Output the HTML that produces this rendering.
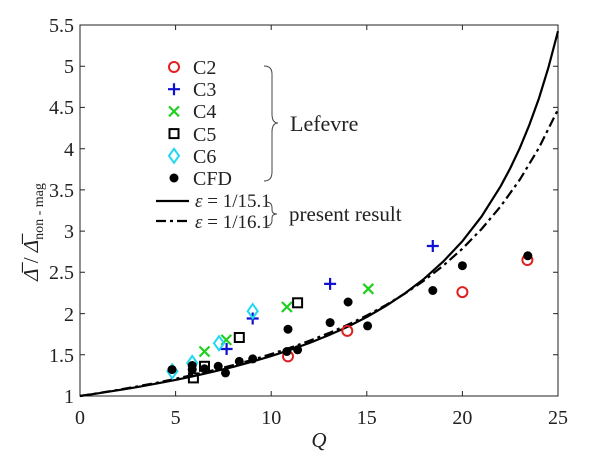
<!DOCTYPE html><html><head><style>body{margin:0;background:#fff}svg{display:block}text{font-family:"Liberation Serif","Times New Roman",serif}</style></head><body>
<svg width="600" height="455" viewBox="0 0 600 455" xmlns="http://www.w3.org/2000/svg" font-family="Liberation Serif, serif">
<rect x="80" y="25" width="478" height="371" fill="none" stroke="#222" stroke-width="1"/>
<g stroke="#222">
<path d="M175.6,396V391M271.2,396V391M366.8,396V391M462.4,396V391M175.6,25V30M271.2,25V30M366.8,25V30M462.4,25V30"/>
<path d="M80,354.8H85M80,313.6H85M80,272.3H85M80,231.1H85M80,189.9H85M80,148.7H85M80,107.4H85M80,66.2H85M558,354.8H553M558,313.6H553M558,272.3H553M558,231.1H553M558,189.9H553M558,148.7H553M558,107.4H553M558,66.2H553"/>
</g>
<g font-size="20" fill="#222" text-anchor="middle">
<text x="80" y="424">0</text><text x="175.6" y="424">5</text><text x="271.2" y="424">10</text><text x="366.8" y="424">15</text><text x="462.4" y="424">20</text><text x="558" y="424">25</text>
</g>
<g font-size="20" fill="#222" text-anchor="end">
<text x="74" y="403">1</text><text x="74" y="362">1.5</text><text x="74" y="321">2</text><text x="74" y="279">2.5</text><text x="74" y="238">3</text><text x="74" y="197">3.5</text><text x="74" y="156">4</text><text x="74" y="114">4.5</text><text x="74" y="73">5</text><text x="74" y="32">5.5</text>
</g>
<text x="319" y="447" font-size="21" font-style="italic" text-anchor="middle" fill="#222">Q</text>
<g transform="translate(38,232) rotate(-90)"><text x="0" y="0" font-size="21" text-anchor="middle" fill="#222"><tspan font-style="italic">Δ̅</tspan> / <tspan font-style="italic">Δ̅</tspan><tspan font-size="14" dy="5">non - mag</tspan></text></g>
<path d="M80,396L99.1,393.2L118.2,390.2L137.4,387.1L156.5,383.6L175.6,379.9L194.7,375.9L213.8,371.6L233,366.9L252.1,361.7L271.2,356.1L290.3,349.8L309.4,343L328.6,335.3L347.7,326.7L366.8,317L385.9,305.9L405,293.3L424.2,278.7L443.3,261.5L462.4,241.2L481.5,216.6L500.6,186.3L510.2,168.4L519.8,148.1L529.3,125L538.9,98.5L548.4,67.6L558,31.2" fill="none" stroke="#000" stroke-width="2.2"/>
<path d="M80,396L99.1,393L118.2,389.8L137.4,386.4L156.5,382.8L175.6,378.8L194.7,374.6L213.8,370.1L233,365.2L252.1,359.9L271.2,354.1L290.3,347.7L309.4,340.8L328.6,333.2L347.7,324.8L366.8,315.5L385.9,305.1L405,293.5L424.2,280.5L443.3,265.6L462.4,248.7L481.5,229.1L500.6,206.4L519.8,179.7L538.9,147.9L558,109.5" fill="none" stroke="#000" stroke-width="2.2" stroke-dasharray="10,4,3,4"/>
<g fill="none" stroke="#e02020" stroke-width="2">
<circle cx="288" cy="356.4" r="5"/><circle cx="347.3" cy="330.9" r="5"/><circle cx="462.4" cy="292.1" r="5"/><circle cx="527.4" cy="260" r="5"/><circle cx="174" cy="67" r="5"/>
</g>
<path stroke="#1010d0" stroke-width="2.2" d="M220.6,349H232.6M226.6,343V355M246.7,318.5H258.7M252.7,312.5V324.5M324.1,283.9H336.1M330.1,277.9V289.9M426.8,246H438.8M432.8,240V252M168,89.2H180M174,83.2V95.2"/>
<path stroke="#20d020" stroke-width="2.2" d="M199.5,346.5L209.5,356.5M199.5,356.5L209.5,346.5M221.3,334.9L231.3,344.9M221.3,344.9L231.3,334.9M281.9,302L291.9,312M281.9,312L291.9,302M363.3,283.8L373.3,293.8M363.3,293.8L373.3,283.8M169,106.4L179,116.4M169,116.4L179,106.4"/>
<g fill="none" stroke="#000" stroke-width="2">
<rect x="188.9" y="373.4" width="9" height="9"/><rect x="200" y="361.8" width="9" height="9"/><rect x="234.8" y="333" width="9" height="9"/><rect x="293.1" y="298.3" width="9" height="9"/><rect x="169.5" y="129.1" width="9" height="9"/>
</g>
<path fill="none" stroke="#20d8f0" stroke-width="2" d="M172.3,364.3L177.3,371.3L172.3,378.3L167.3,371.3ZM192.2,356L197.2,363L192.2,370L187.2,363ZM219,336.2L224,343.2L219,350.2L214,343.2ZM252.7,304.1L257.7,311.1L252.7,318.1L247.7,311.1ZM174,148.8L179,155.8L174,162.8L169,155.8Z"/>
<g fill="#000">
<circle cx="172" cy="369.6" r="4.5"/><circle cx="192.2" cy="365.5" r="4.5"/><circle cx="192.2" cy="369.6" r="4.5"/><circle cx="204.5" cy="368.8" r="4.5"/><circle cx="218.2" cy="366.3" r="4.5"/><circle cx="225.5" cy="372.9" r="4.5"/><circle cx="239.3" cy="361.4" r="4.5"/><circle cx="252.7" cy="358.9" r="4.5"/><circle cx="288" cy="329.2" r="4.5"/><circle cx="286.9" cy="351.5" r="4.5"/><circle cx="297.6" cy="349.8" r="4.5"/><circle cx="330.1" cy="322.6" r="4.5"/><circle cx="348.1" cy="302" r="4.5"/><circle cx="367.6" cy="325.9" r="4.5"/><circle cx="432.8" cy="290.5" r="4.5"/><circle cx="462.4" cy="265.7" r="4.5"/><circle cx="527.8" cy="255.8" r="4.5"/><circle cx="174" cy="178" r="4.5"/>
</g>
<g font-size="20" fill="#222">
<text x="193" y="74">C2</text><text x="193" y="96">C3</text><text x="193" y="118">C4</text><text x="193" y="141">C5</text><text x="193" y="163">C6</text><text x="193" y="185">CFD</text>
</g>
<line x1="156" y1="201" x2="189" y2="201" stroke="#000" stroke-width="2.2"/>
<line x1="156" y1="221" x2="189" y2="221" stroke="#000" stroke-width="2.2" stroke-dasharray="10,4,3,4"/>
<text x="195" y="207" font-size="19" fill="#222"><tspan font-style="italic">ε</tspan> = 1/15.1</text>
<text x="195" y="228" font-size="19" fill="#222"><tspan font-style="italic">ε</tspan> = 1/16.1</text>
<path d="M264,66 Q272,66 272,74 V114 Q272,123 278,123 Q272,123 272,132 V172 Q272,181 264,181" fill="none" stroke="#444" stroke-width="1"/>
<text x="290" y="131" font-size="22" fill="#222">Lefevre</text>
<path d="M266,202 Q272,202 272,208 V210 Q272,214 277,214 Q272,214 272,218 V220 Q272,226 266,226" fill="none" stroke="#444" stroke-width="1"/>
<text x="289" y="221" font-size="21" fill="#222">present result</text>
</svg></body></html>
